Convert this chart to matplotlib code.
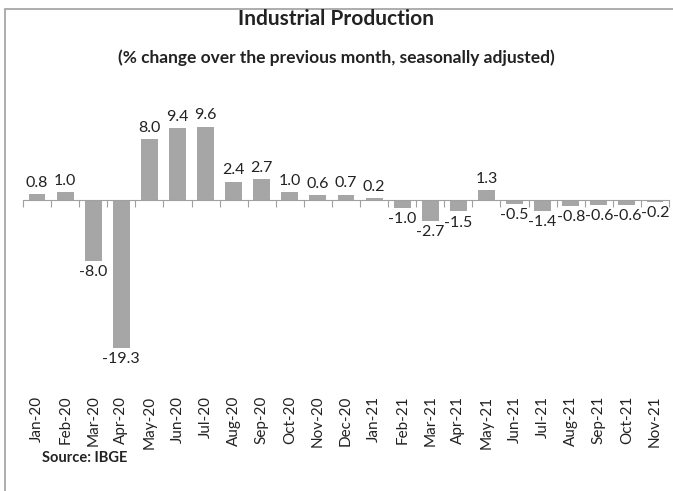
import matplotlib
matplotlib.use("Agg")
import matplotlib.pyplot as plt
from matplotlib.patches import Rectangle

months = ["Jan-20", "Feb-20", "Mar-20", "Apr-20", "May-20", "Jun-20", "Jul-20",
          "Aug-20", "Sep-20", "Oct-20", "Nov-20", "Dec-20", "Jan-21", "Feb-21",
          "Mar-21", "Apr-21", "May-21", "Jun-21", "Jul-21", "Aug-21", "Sep-21",
          "Oct-21", "Nov-21"]
values = [0.8, 1.0, -8.0, -19.3, 8.0, 9.4, 9.6, 2.4, 2.7, 1.0, 0.6, 0.7, 0.2,
          -1.0, -2.7, -1.5, 1.3, -0.5, -1.4, -0.8, -0.6, -0.6, -0.2]

plt.rcParams['font.family'] = ['Lato', 'DejaVu Sans']

W, H = 673, 491
fig = plt.figure(figsize=(W / 100, H / 100), dpi=100)

# frame around the chart
fig.patches.append(Rectangle((5 / W, -0.1), 1.2, 1 - 9 / H + 0.1,
                             transform=fig.transFigure, fill=False,
                             edgecolor="#a0a0a0", linewidth=1.2))

ax_left, ax_right = 23, 669
ax_top, ax_bot = 120, 390
ax = fig.add_axes([ax_left / W, 1 - ax_bot / H, (ax_right - ax_left) / W,
                   (ax_bot - ax_top) / H])
ppu = 7.65
zero_px = 200
ax.set_ylim(-(ax_bot - zero_px) / ppu, (zero_px - ax_top) / ppu)
ax.set_xlim(-0.5, len(months) - 0.5)

x = range(len(months))
bars = ax.bar(x, values, width=0.6, color="#a6a6a6")
ax.bar_label(bars, fmt="%.1f", padding=3, fontsize=11.5, color="#222222")

for s in ["top", "right", "left"]:
    ax.spines[s].set_visible(False)
ax.spines["bottom"].set_position(("data", 0))
ax.spines["bottom"].set_color("#a0a0a0")
ax.set_yticks([])
ax.set_xticks([i - 0.5 for i in range(len(months) + 1)])
ax.tick_params(axis="x", length=5, color="#a0a0a0", labelbottom=False)

sec = ax.secondary_xaxis("bottom")
sec.set_xticks(list(x))
sec.set_xticklabels(months, rotation=90, fontsize=11, color="#222222")
sec.tick_params(length=0, pad=4)
sec.spines["bottom"].set_visible(False)

fig.text(0.5, 1 - 19 / H, "Industrial Production", ha="center", va="center",
         fontsize=15, fontweight="bold", color="#222222")
fig.text(0.5, 1 - 58 / H, "(% change over the previous month, seasonally adjusted)",
         ha="center", va="center", fontsize=12.5, fontweight="bold", color="#222222")
fig.text(42 / W, 1 - 458 / H, "Source: IBGE", ha="left", va="center",
         fontsize=10.5, fontweight="bold", color="#222222")

fig.savefig("out.png", dpi=100)
